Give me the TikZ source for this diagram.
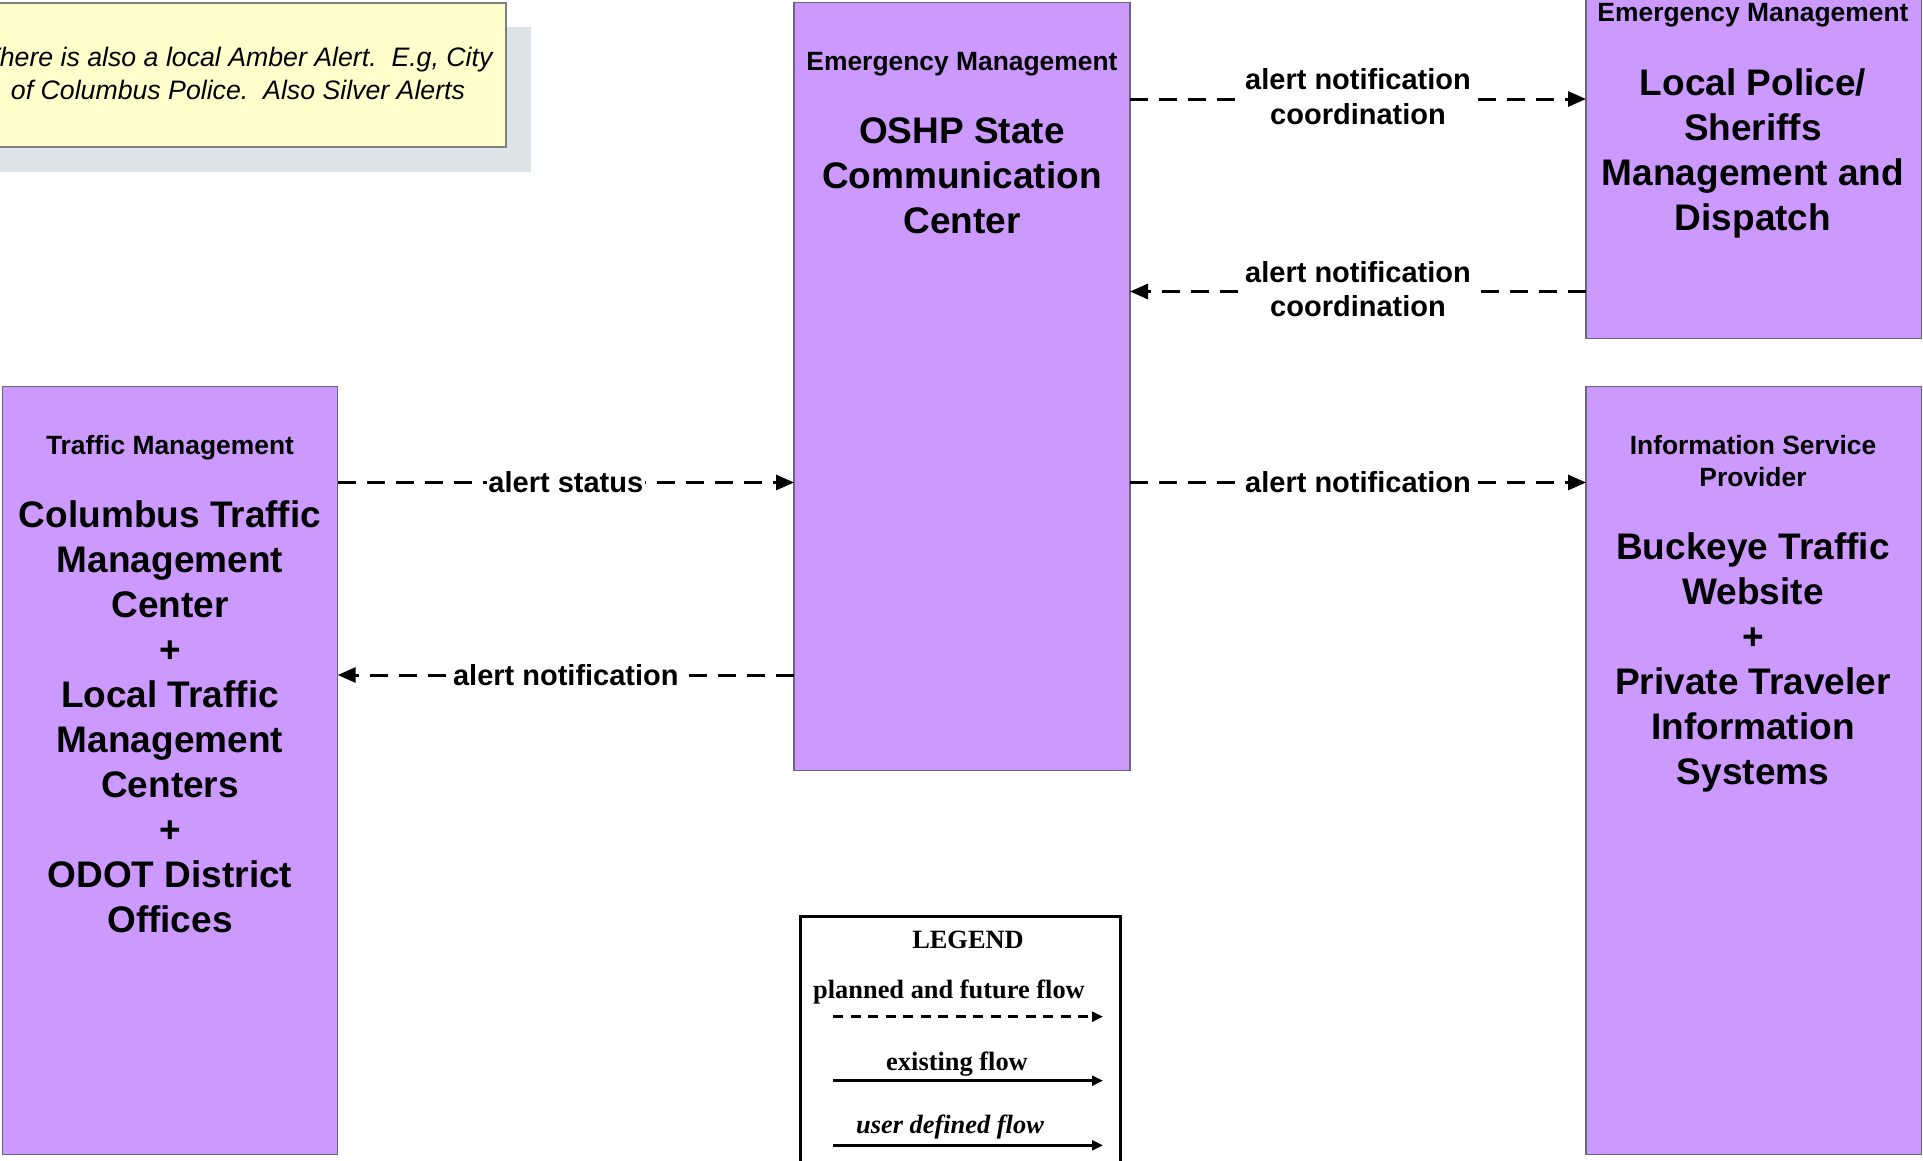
\documentclass[tikz,border=0pt]{standalone}
\usepackage{fontspec}
\setmainfont{Liberation Sans}
\newfontfamily\legendfont{Liberation Serif}
\usetikzlibrary{arrows.meta}
\definecolor{boxfill}{HTML}{CC99FF}
\definecolor{boxline}{RGB}{110,100,125}
\definecolor{notefill}{HTML}{FFFFCC}
\definecolor{noteline}{RGB}{128,128,128}
\definecolor{shadowc}{RGB}{220,228,232}
\begin{document}
\begin{tikzpicture}[x=1pt,y=-1pt,
  box/.style={draw=boxline, fill=boxfill, line width=1.5pt, inner sep=0pt, outer sep=0pt, anchor=north west},
  hdr/.style={font=\bfseries\fontsize{26.4}{32}\selectfont, align=center, inner sep=0pt},
  big/.style={font=\bfseries\fontsize{37}{45}\selectfont, align=center, inner sep=0pt},
  lbl/.style={font=\bfseries\fontsize{29}{34.5}\selectfont, align=center, fill=white, inner sep=1.5pt},
  flow/.style={line width=3pt, dash pattern=on 18pt off 11pt, -{Triangle[length=18pt,width=15pt]}},
  legtxt/.style={font=\legendfont\bfseries\fontsize{26.4}{30}\selectfont, inner sep=0pt},
  legarrow/.style={line width=2.5pt, -{Triangle[length=11pt,width=10pt]}},
  notetxt/.style={font=\itshape\fontsize{26.7}{33}\selectfont, align=center, inner sep=0pt}
]
\useasboundingbox (0,0) rectangle (1923,1160);

% note with shadow
\node[fill=shadowc, inner sep=0pt, outer sep=0pt, anchor=north west, minimum width=537pt, minimum height=145pt] (noteshadow) at (-6,26.7) {};
\node[fill=notefill, draw=noteline, line width=2pt, inner sep=0pt, outer sep=0pt, anchor=north west, minimum width=536.4pt, minimum height=144pt] (note) at (-30,2.7) {};
\node[notetxt] (notetext) at (238,73.4) {There is also a local Amber Alert.~~E.g, City\\of Columbus Police.~~Also Silver Alerts};

% boxes
\node[box, minimum width=336pt, minimum height=768pt] (oshp) at (794,2.7) {};
\node[box, minimum width=335.5pt, minimum height=344pt] (police) at (1586,-5.5) {};
\node[box, minimum width=335.2pt, minimum height=767.6pt] (traffic) at (2.5,386.7) {};
\node[box, minimum width=335.5pt, minimum height=767.6pt] (isp) at (1586,386.7) {};

% box texts
\node[hdr] (oshph) at (962,64.6) {Emergency Management};
\node[big] (oshpt) at (962,176) {OSHP State\\Communication\\Center};
\node[hdr] (policeh) at (1753,15) {Emergency Management};
\node[big] (policet) at (1753,153) {Local Police/\\Sheriffs\\Management and\\Dispatch};
\node[hdr] (traffich) at (170,447.6) {Traffic Management};
\node[big] (traffict) at (170,717) {Columbus Traffic\\Management\\Center\\+\\Local Traffic\\Management\\Centers\\+\\ODOT District\\Offices};
\node[hdr] (isph) at (1753,461) {Information Service\\Provider};
\node[big] (ispt) at (1753,662) {Buckeye Traffic\\Website\\+\\Private Traveler\\Information\\Systems};

% flows
\draw[flow] (oshp.east |- 0,99) -- (police.west |- 0,99)
  node[lbl, midway, yshift=2.5pt] (l1) {alert notification\\coordination};
\draw[flow] (police.west |- 0,291.5) -- (oshp.east |- 0,291.5)
  node[lbl, midway, yshift=2.5pt] (l2) {alert notification\\coordination};
\draw[flow] (traffic.east |- 0,482.5) -- (oshp.west |- 0,482.5)
  node[lbl, midway] (l3) {alert status};
\draw[flow] (oshp.west |- 0,675) -- (traffic.east |- 0,675)
  node[lbl, midway] (l4) {alert notification};
\draw[flow] (oshp.east |- 0,482.5) -- (isp.west |- 0,482.5)
  node[lbl, midway] (l5) {alert notification};

% legend
\node[draw, line width=3pt, inner sep=0pt, outer sep=0pt, anchor=north west, minimum width=320pt, minimum height=270pt] (legend) at (800.7,916) {};
\node[legtxt] (legt) at (968,940) {LEGEND};
\node[legtxt] (leg1) at (949,992) {planned and future flow};
\coordinate (d1s) at (833,1016.7);
\coordinate (d1e) at (1103,1016.7);
\draw[legarrow, dash pattern=on 10pt off 7.5pt] (d1s) -- (d1e);
\node[legtxt] (leg2) at (957,1064) {existing flow};
\coordinate (d2s) at (833,1080.7);
\coordinate (d2e) at (1103,1080.7);
\draw[legarrow] (d2s) -- (d2e);
\node[legtxt, font=\legendfont\bfseries\itshape\fontsize{26.4}{30}\selectfont] (leg3) at (950,1127) {user defined flow};
\coordinate (d3s) at (833,1145.3);
\coordinate (d3e) at (1103,1145.3);
\draw[legarrow] (d3s) -- (d3e);
\end{tikzpicture}
\end{document}
